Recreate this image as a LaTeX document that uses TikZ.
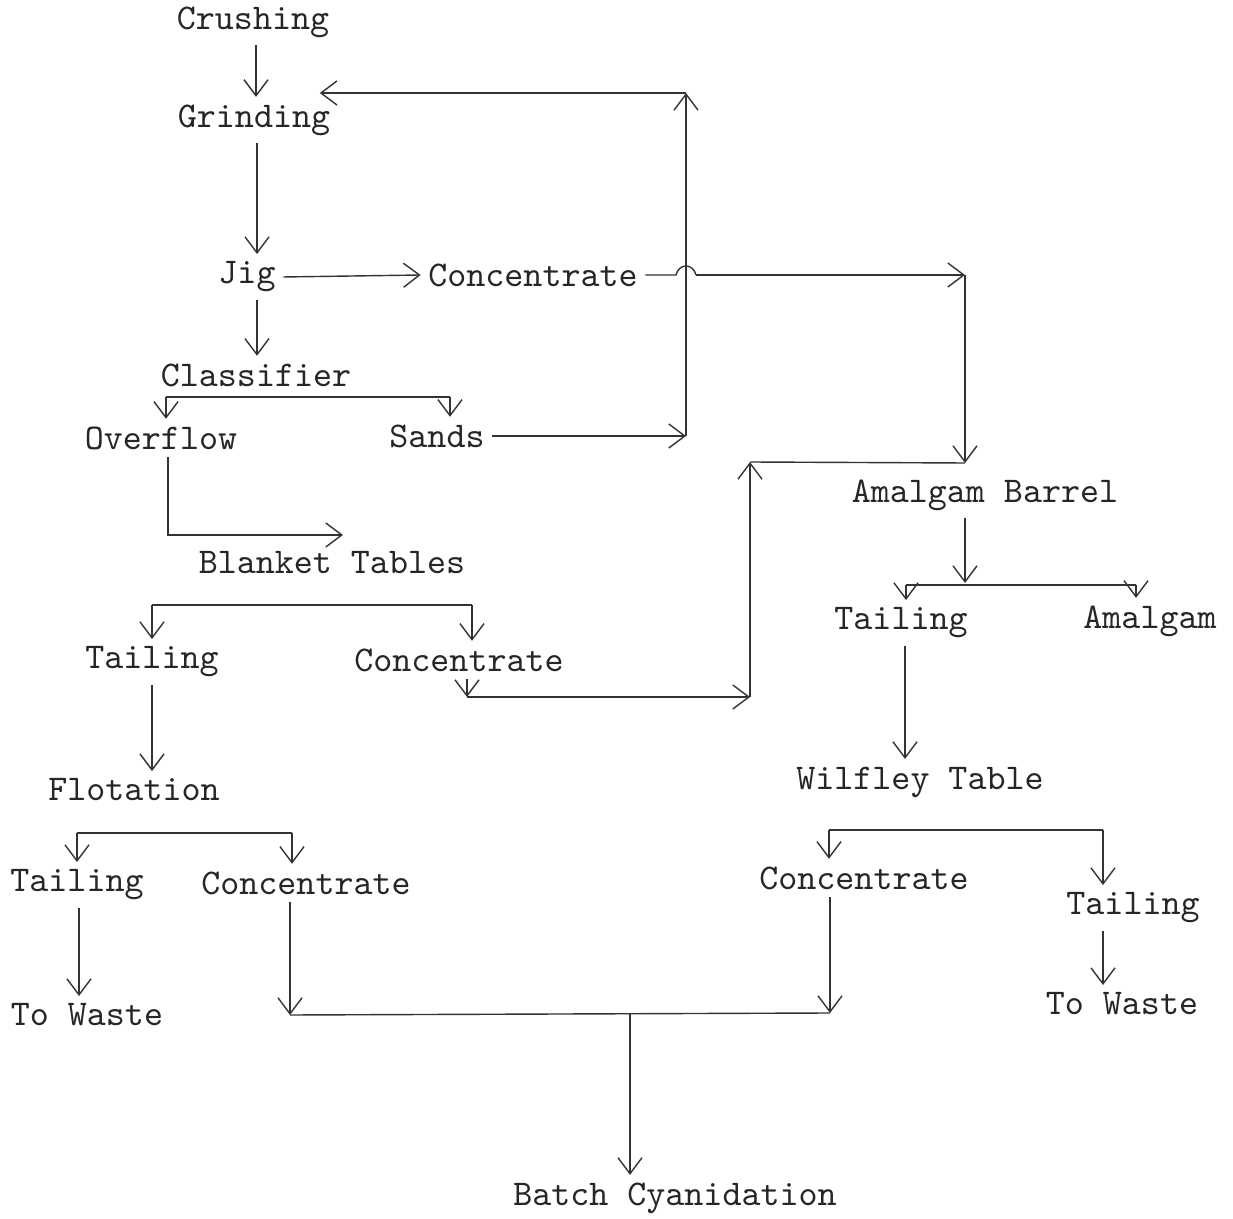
\documentclass[tikz,border=0pt]{standalone}
\usepackage{tikz}
\usetikzlibrary{arrows.meta}

\tikzset{
  lbl/.style={inner sep=2pt, text=black!85, font=\fontsize{10.3}{12}\selectfont\ttfamily},
  flow/.style={->}
}

\begin{document}
\begin{tikzpicture}[x=0.01cm, y=-0.01cm, >={Straight Barb[length=1.6mm,width=2.4mm]},
    line width=0.4pt, draw=black!80]
    \useasboundingbox (0,0) rectangle (1233,1219);

    % left branch
    \node[lbl] (crush) at (253,22) {Crushing};
    \node[lbl] (grind) at (254,120) {Grinding};
    \node[lbl] (jig) at (247,277) {Jig};
    \node[lbl] (jigcon) at (533,275) {Concentrate};
    \node[lbl] (class) at (256,375) {Classifier};
    \node[lbl] (over) at (161,438) {Overflow};
    \node[lbl] (sands) at (437,436) {Sands};
    \node[lbl] (blank) at (332,563) {Blanket Tables};
    \node[lbl] (btail) at (152,662) {Tailing};
    \node[lbl] (bcon) at (459,660) {Concentrate};
    \node[lbl] (flot) at (134,790) {Flotation};
    \node[lbl] (ftail) at (77,885) {Tailing};
    \node[lbl] (fcon) at (306,883) {Concentrate};
    \node[lbl] (fwaste) at (87,1015) {To Waste};

    % right branch
    \node[lbl] (barrel) at (985,495) {Amalgam Barrel};
    \node[lbl] (atail) at (901,623) {Tailing};
    \node[lbl] (amalg) at (1150,621) {Amalgam};
    \node[lbl] (wilf) at (920,782) {Wilfley Table};
    \node[lbl] (wcon) at (864,878) {Concentrate};
    \node[lbl] (wtail) at (1133,908) {Tailing};
    \node[lbl] (wwaste) at (1122,1004) {To Waste};
    \node[lbl] (batch) at (675,1198) {Batch Cyanidation};

    \draw[flow] ([xshift=0.3mm]crush.south) -- ([xshift=0.3mm]crush.south |- grind.north);
    \draw[flow] ([xshift=0.3mm]grind.south) -- ([xshift=0.3mm]grind.south |- jig.north);
    \draw[flow] (jig.east) -- (jigcon.west);
    \draw[flow] ([xshift=1mm]jig.south) -- ([xshift=1mm]jig.south |- class.north);

    % classifier split
    \coordinate (cbl) at (166,397);
    \coordinate (cbr) at (450,397);
    \draw (cbl) -- (cbr);
    \draw[flow] (cbl) -- (cbl |- over.north);
    \draw[flow] (cbr) -- (cbr |- sands.north);

    \coordinate (ob) at (343,535);
    \draw[flow] ([xshift=0.7mm]over.south) |- (ob);

    % sands back to grinding
    \coordinate (sr) at (686,436);
    \coordinate (st) at (686,93);
    \draw[flow] (sands.east) -- (sr);
    \draw[flow] (sr) -- (st);
    \draw[flow] (st) -- ([xshift=-1.8mm]st -| grind.north east);

    % jig concentrate to barrel, hopping over the return line
    \coordinate (hop) at (sr |- jigcon.east);
    \coordinate (ar) at (965,275);
    \coordinate (am) at (965,463);
    \draw (jigcon.east) -- ([xshift=-1mm]hop) .. controls +(3,-12) and +(-3,-12) .. ([xshift=1mm]hop);
    \draw[flow] ([xshift=1mm]hop) -- (ar);
    \draw[flow] (ar) -- (am);

    % blanket table concentrate to barrel
    \coordinate (bd) at (467,697);
    \coordinate (bc) at (750,697);
    \coordinate (bu) at (750,462);
    \draw[flow] (bcon.south -| bd) -- (bd);
    \draw[flow] (bd) -- (bc);
    \draw[flow] (bc) -- (bu);
    \draw (bu) -- (am);

    % blanket tables split
    \coordinate (bbl) at (152,605);
    \coordinate (bbr) at (472,605);
    \draw (bbl) -- (bbr);
    \draw[flow] (bbl) -- (bbl |- btail.north);
    \draw[flow] (bbr) -- (bbr |- bcon.north);
    \draw[flow] (btail.south) -- (btail.south |- flot.north);

    % flotation split
    \coordinate (fbl) at (77,833);
    \coordinate (fbr) at (292,833);
    \draw (fbl) -- (fbr);
    \draw[flow] (fbl) -- (fbl |- ftail.north);
    \draw[flow] (fbr) -- (fbr |- fcon.north);
    \draw[flow] ([xshift=0.2mm]ftail.south) -- ([xshift=0.2mm]ftail.south |- fwaste.north);

    % amalgam barrel split
    \coordinate (abm) at (965,583);
    \coordinate (abl) at (906,585);
    \coordinate (abr) at (1136,585);
    \draw[flow] (barrel.south -| abm) -- (abm);
    \draw (abl) -- (abr);
    \draw[flow] (abl) -- (abl |- atail.north);
    \draw[flow] (abr) -- (abr |- amalg.north);
    \draw[flow] ([xshift=0.4mm]atail.south) -- ([xshift=0.4mm]atail.south |- wilf.north);

    % wilfley split
    \coordinate (wbl) at (829,830);
    \coordinate (wbr) at (1103,830);
    \draw (wbl) -- (wbr);
    \draw[flow] (wbl) -- (wbl |- wcon.north);
    \draw[flow] (wbr) -- (wbr |- wtail.north);
    \draw[flow] (wtail.south -| wbr) -- (wbr |- wwaste.north);

    % concentrates to cyanidation
    \coordinate (cl) at (290,1015);
    \coordinate (cr) at (830,1013);
    \coordinate (cm) at (630,1014);
    \draw[flow] (fcon.south -| cl) -- (cl);
    \draw[flow] (wcon.south -| cr) -- (cr);
    \draw (cl) -- (cr);
    \draw[flow] (cm) -- (cm |- batch.north);
\end{tikzpicture}
\end{document}
